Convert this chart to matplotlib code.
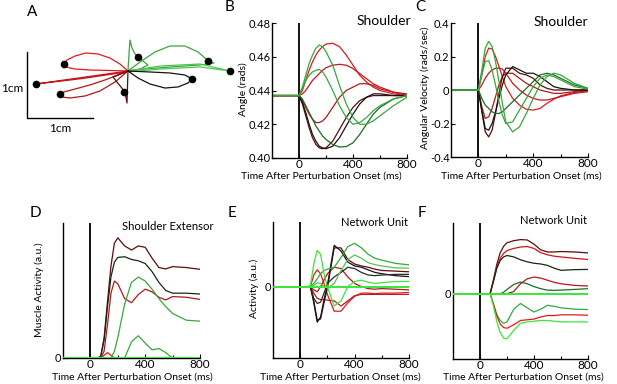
import matplotlib
matplotlib.use('Agg')
import matplotlib.pyplot as plt

plt.rcParams['font.family'] = ['Lato', 'DejaVu Sans']

W, H = 617, 384

# shared time grid (ms)
t = [-200, 0, 25, 50, 75, 100, 125, 150, 175, 200, 250, 300, 350, 400, 450, 500, 550, 600, 700, 800]

# colours for the 8 perturbation directions
c_r1 = '#e3191e'
c_r2 = '#c8161c'
c_r3 = '#b3171a'
c_dk = '#5c0c0c'
c_k = '#141414'
c_dg = '#1e6b22'
c_g = '#36a83c'
c_lg = '#52c752'
c_bright = '#3be63b'

# ---- panel A: hand trajectories (cm, relative to start), endpoint dot
trajA = [
    ([0, -0.121, -0.273, -0.455, -0.636, -0.803, -0.924, -0.970, -0.939, -0.803, -0.576, -0.273, 0],
     [0, 0.106, 0.197, 0.258, 0.273, 0.227, 0.167, 0.106, 0.061, 0.030, 0.015, 0.008, 0],
     c_r1, (-0.970, 0.106)),
    ([0, -1.394, -0.7, 0], [0, -0.197, -0.115, -0.012], c_r2, (-1.394, -0.197)),
    ([0, -0.152, -0.348, -0.576, -0.803, -0.970, -1.030, -1.0, -0.879, -0.652, -0.424, -0.197, 0],
     [0, -0.061, -0.136, -0.212, -0.273, -0.318, -0.348, -0.394, -0.409, -0.379, -0.303, -0.167, 0],
     c_r3, (-1.030, -0.348)),
    ([0, -0.227, -0.045, -0.015, 0], [0, -0.091, -0.318, -0.485, 0], c_dk, (-0.061, -0.318)),
    ([0, 0.015, 0.030, 0.061, 0.106, 0.152, 0.227, 0.303, 0.182, 0],
     [0, 0.242, 0.470, 0.348, 0.258, 0.212, 0.152, 0.091, 0.030, 0],
     c_g, (0.152, 0.212)),
    ([0, 0.182, 0.409, 0.636, 0.864, 1.061, 1.167, 1.212, 1.303, 1.091, 0.636, 0.258, 0],
     [0, 0.136, 0.288, 0.379, 0.379, 0.288, 0.197, 0.152, 0.121, 0.091, 0.061, 0.030, 0],
     c_g, (1.212, 0.152)),
    ([0, 0.485, 1.09, 1.545, 1.09, 0.485, 0],
     [0, 0.076, 0.106, 0, 0.061, 0.03, -0.015], c_lg, (1.545, 0)),
    ([0, 0.152, 0.333, 0.561, 0.758, 0.909, 0.970, 0.864, 0.636, 0.333, 0],
     [0, -0.106, -0.197, -0.258, -0.242, -0.182, -0.121, -0.061, -0.030, -0.015, 0],
     c_k, (0.970, -0.121)),
]

# ---- panel B: shoulder angle (rads)
b_r1 = [.437, .437, .440, .446, .452, .457, .461, .464, .466, .4675, .468, .466, .461, .455, .449, .445, .442, .440, .438, .437]
b_r2 = [.437, .437, .438, .440, .443, .446, .448, .450, .452, .4535, .455, .4555, .455, .453, .450, .447, .444, .442, .439, .437]
b_r3 = [.437, .437, .434, .430, .426, .423, .421, .421, .422, .424, .430, .436, .440, .442, .444, .444, .443, .441, .439, .438]
b_dk = [.437, .437, .432, .425, .418, .412, .408, .406, .4055, .406, .410, .417, .424, .430, .434, .436, .437, .437, .437, .437]
b_k = [.437, .437, .433, .427, .420, .414, .410, .407, .406, .4055, .407, .412, .419, .426, .432, .436, .438, .438, .437, .437]
b_g1 = [.437, .437, .442, .449, .456, .461, .465, .467, .466, .463, .455, .443, .432, .424, .420, .420, .422, .425, .431, .436]
b_g2 = [.437, .437, .441, .446, .449, .451, .452, .4525, .451, .448, .440, .431, .424, .420, .421, .424, .428, .431, .435, .437]
b_g3 = [.437, .437, .435, .431, .427, .423, .419, .416, .413, .411, .408, .4065, .4068, .409, .414, .420, .426, .430, .435, .437]

# ---- panel C: shoulder angular velocity (rads/sec)
v_r1 = [0, 0, .09, .20, .25, .245, .20, .14, .08, .02, -.05, -.09, -.115, -.12, -.11, -.08, -.055, -.035, -.015, -.005]
v_r2 = [0, 0, .03, .07, .10, .12, .13, .13, .125, .10, .04, 0, -.03, -.05, -.06, -.06, -.05, -.04, -.02, -.01]
v_r3 = [0, 0, -.10, -.17, -.16, -.11, -.04, .03, .08, .10, .10, .07, .04, .02, 0, -.01, -.02, -.02, -.01, 0]
v_dk = [0, 0, -.13, -.25, -.28, -.24, -.14, -.02, .08, .13, .13, .10, .09, .07, .03, .01, 0, 0, 0, 0]
v_k = [0, 0, -.12, -.23, -.24, -.20, -.13, -.05, .03, .09, .14, .12, .10, .10, .08, .05, .02, .01, 0, 0]
v_g1 = [0, 0, .12, .25, .29, .26, .17, .05, -.08, -.19, -.25, -.22, -.14, -.05, .03, .08, .10, .09, .04, .01]
v_g2 = [0, 0, .09, .17, .175, .12, .03, -.07, -.15, -.20, -.19, -.12, -.05, .02, .07, .09, .08, .06, .02, .005]
v_g3 = [0, 0, -.05, -.09, -.11, -.13, -.14, -.14, -.13, -.11, -.07, -.03, .01, .05, .09, .10, .09, .07, .03, .01]

# ---- panel D: shoulder extensor muscle activity (a.u.)
d_dk = [0, 0, 0, 0, .01, .15, .42, .68, .85, .89, .83, .80, .83, .82, .74, .67, .66, .677, .67, .657]
d_k = [0, 0, 0, 0, .01, .13, .38, .60, .71, .745, .75, .73, .72, .70, .64, .56, .50, .48, .48, .474]
d_r = [0, 0, 0, 0, 0, .05, .25, .48, .57, .55, .44, .41, .47, .51, .49, .45, .43, .455, .45, .434]
d_r2 = [0, 0, 0, 0, 0, .02, .04, .02, 0, 0, 0, 0, 0, 0, 0, 0, 0, 0, 0, 0]
d_g1 = [0, 0, 0, 0, 0, 0, 0, 0, .05, .15, .40, .56, .60, .57, .51, .44, .38, .33, .28, .273]
d_g2 = [0, 0, 0, 0, 0, 0, 0, 0, 0, 0, 0, .12, .165, .11, .06, .07, .04, 0, 0, 0]
d_zero = [0] * 20

# ---- panel E: network unit 1 (a.u.)
e_k1 = [0, 0, 0, 0, 0, -.25, -.55, -.47, -.2, .02, .64, .55, .38, .32, .30, .26, .22, .20, .17, .155]
e_dk = [0, 0, 0, 0, 0, -.22, -.52, -.50, -.25, -.02, .60, .60, .42, .35, .32, .30, .27, .25, .24, .23]
e_k3 = [0, 0, 0, 0, 0, -.18, -.26, -.24, -.10, .05, .15, .22, .30, .28, .22, .18, .17, .18, .19, .19]
e_g1 = [0, 0, 0, 0, .02, .35, .56, .50, .20, 0, -.30, -.22, 0, .08, .10, .07, .05, .06, .08, .08]
e_g2 = [0, 0, 0, 0, 0, .05, .12, .20, .25, .27, .30, .45, .62, .67, .60, .50, .44, .41, .36, .337]
e_g3 = [0, 0, 0, 0, 0, .02, .06, .05, 0, -.02, .05, .25, .42, .49, .44, .37, .34, .32, .29, .285]
e_r1 = [0, 0, 0, 0, 0, .18, .26, .20, .05, -.12, -.38, -.38, -.25, -.15, -.10, -.10, -.11, -.10, -.10, -.09]
e_r2 = [0, 0, 0, 0, 0, -.05, -.08, 0, .10, .20, .30, .28, .15, .05, 0, -.03, -.04, -.03, -.04, -.05]
e_r3 = [0, 0, 0, 0, 0, -.10, -.18, -.20, -.20, -.21, -.22, -.30, -.22, -.14, -.12, -.12, -.12, -.12, -.12, -.12]

# ---- panel F: network unit 2 (a.u.)
f_dk = [0, 0, 0, 0, 0, .20, .42, .58, .67, .72, .75, .765, .76, .70, .62, .59, .59, .596, .59, .577]
f_r1 = [0, 0, 0, 0, 0, .18, .38, .50, .57, .61, .64, .66, .667, .64, .58, .55, .53, .52, .50, .484]
f_k = [0, 0, 0, 0, 0, .18, .36, .47, .52, .54, .52, .48, .45, .43, .42, .40, .36, .33, .34, .343]
f_r2 = [0, 0, 0, 0, 0, 0, 0, 0, 0, 0, .03, .14, .21, .235, .22, .19, .16, .14, .117, .108]
f_g1 = [0, 0, 0, 0, 0, 0, 0, 0, .02, .06, .13, .164, .14, .10, .07, .05, .047, .05, .06, .07]
f_g2 = [0, 0, 0, 0, 0, -.15, -.30, -.38, -.42, -.40, -.22, -.14, -.20, -.26, -.22, -.165, -.18, -.20, -.22, -.225]
f_r3 = [0, 0, 0, 0, 0, -.15, -.32, -.43, -.48, -.49, -.44, -.38, -.37, -.36, -.33, -.31, -.31, -.30, -.30, -.305]
f_g3 = [0, 0, 0, 0, 0, -.18, -.40, -.55, -.63, -.64, -.52, -.42, -.40, -.39, -.38, -.38, -.39, -.40, -.40, -.40]

xlab = 'Time After Perturbation Onset (ms)'


def box(x0, y0, x1, y1):
    return [x0 / W, 1 - y1 / H, (x1 - x0) / W, (y1 - y0) / H]


def ftext(x, y, s, **kw):
    fig.text(x / W, 1 - y / H, s, **kw)


def style(ax, ylim):
    ax.set_xlim(-200, 800)
    ax.set_ylim(*ylim)
    for s in ['top', 'right']:
        ax.spines[s].set_visible(False)
    for s in ['left', 'bottom']:
        ax.spines[s].set_linewidth(1.0)
    ax.set_xticks([0, 400, 800])
    ax.set_xticks([200, 600], minor=True)
    ax.tick_params(direction='in', length=3, width=0.8, labelsize=8.5, pad=1)
    ax.tick_params(axis='y', labelsize=8)
    ax.tick_params(which='minor', direction='in', length=2, width=0.8)
    ax.axvline(0, color='k', lw=1.3, zorder=1)


fig = plt.figure(figsize=(W / 100, H / 100), dpi=100)

# A
axA = fig.add_axes(box(0, 20, 270, 135))
axA.set_xlim(-1.939, 2.152)
axA.set_ylim(-0.970, 0.773)
axA.axis('off')
for xs, ys, col, dot in trajA:
    axA.plot(xs, ys, color=col, lw=0.9)
    axA.plot(*dot, 'o', color='k', ms=4.5)
axA.plot([-1.53, -1.53, -0.53], [0.288, -0.712, -0.712], color='k', lw=1.0)
ftext(12, 88, '1cm', ha='center', va='center', fontsize=8.5)
ftext(60, 128, '1cm', ha='center', va='center', fontsize=8.5)

# B
axB = fig.add_axes(box(272, 23, 407, 158))
style(axB, (0.40, 0.48))
axB.set_yticks([0.40, 0.42, 0.44, 0.46, 0.48])
axB.set_yticklabels(['0.40', '0.42', '0.44', '0.46', '0.48'])
for ys, col in [(b_r1, c_r1), (b_r2, c_r2), (b_r3, c_r3), (b_dk, c_dk), (b_k, c_k),
                (b_g3, c_dg), (b_g2, c_g), (b_g1, c_g)]:
    axB.plot(t, ys, color=col, lw=0.9)

# C
axC = fig.add_axes(box(451, 23, 588, 157))
style(axC, (-0.4, 0.4))
axC.set_yticks([-0.4, -0.2, 0, 0.2, 0.4])
axC.set_yticklabels(['-0.4', '-0.2', '0', '0.2', '0.4'])
for ys, col in [(v_r1, c_r1), (v_r2, c_r2), (v_r3, c_r3), (v_dk, c_dk), (v_k, c_k),
                (v_g3, c_dg), (v_g2, c_g), (v_g1, c_g)]:
    axC.plot(t, ys, color=col, lw=0.9)

# D
axD = fig.add_axes(box(63, 223, 200, 358))
style(axD, (0, 1.0))
axD.set_yticks([0])
for ys, col in [(d_dk, c_dk), (d_k, '#142a14'), (d_r, c_r3), (d_r2, c_r1),
                (d_g1, c_g), (d_g2, c_g)]:
    axD.plot(t, ys, color=col, lw=0.9)
axD.plot(t, d_zero, color=c_bright, lw=2.2, zorder=3)

# E
axE = fig.add_axes(box(273, 222, 409, 358))
style(axE, (-1.104, 1.0))
axE.set_yticks([0])
for ys, col in [(e_r1, c_r1), (e_r2, c_r3), (e_r3, c_r2), (e_dk, c_dk), (e_k1, c_k),
                (e_k3, '#2a2a2a'), (e_g2, c_g), (e_g3, c_lg), (e_g1, c_bright)]:
    axE.plot(t, ys, color=col, lw=0.9)
axE.plot(t, [0] * 20, color=c_bright, lw=1.4, zorder=3)

# F
axF = fig.add_axes(box(453, 223, 588, 359))
style(axF, (-0.925, 1.0))
axF.set_yticks([0])
for ys, col in [(f_dk, c_dk), (f_r1, c_r2), (f_k, '#142a14'), (f_r2, c_r3), (f_g1, c_dg),
                (f_g2, c_g), (f_r3, c_r1), (f_g3, c_bright)]:
    axF.plot(t, ys, color=col, lw=0.9)
axF.plot(t, [0] * 20, color=c_bright, lw=1.4, zorder=3)

# titles / labels
ftext(411, 21, 'Shoulder', ha='right', va='center', fontsize=10)
ftext(588, 22, 'Shoulder', ha='right', va='center', fontsize=10)
ftext(122, 226, 'Shoulder Extensor', ha='left', va='center', fontsize=8.2)
ftext(408, 222, 'Network Unit', ha='right', va='center', fontsize=8)
ftext(587, 221, 'Network Unit', ha='right', va='center', fontsize=8)

for x, y in [(241, 176), (441, 176), (52, 377), (260, 377), (443, 377)]:
    ftext(x, y, xlab, ha='left', va='center', fontsize=7.5)

ftext(243, 89, 'Angle (rads)', ha='center', va='center', rotation=90, fontsize=7.5)
ftext(425, 88, 'Angular Velocity (rads/sec)', ha='center', va='center', rotation=90, fontsize=7.5)
ftext(39, 290, 'Muscle Activity (a.u.)', ha='center', va='center', rotation=90, fontsize=7.5)
ftext(254, 288, 'Activity (a.u.)', ha='center', va='center', rotation=90, fontsize=7.5)

for s, x, y in [('A', 32, 12), ('B', 230, 7), ('C', 420, 7), ('D', 35, 213), ('E', 232, 213), ('F', 422, 213)]:
    ftext(x, y, s, ha='center', va='center', fontsize=11)

fig.savefig('out.png', dpi=100)
